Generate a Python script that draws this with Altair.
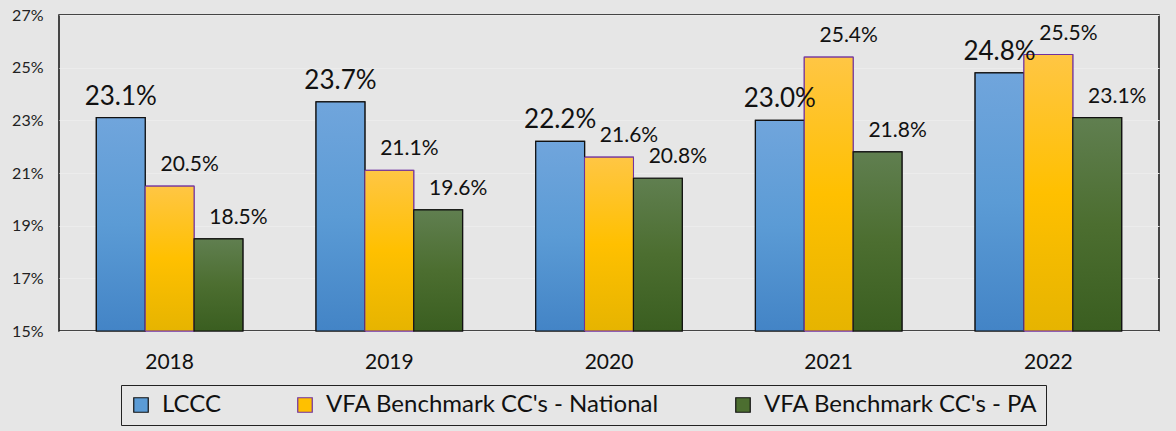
import altair as alt
import pandas as pd

years = ["2018", "2019", "2020", "2021", "2022"]
series = ["LCCC", "VFA Benchmark CC's - National", "VFA Benchmark CC's - PA"]
lccc = [23.1, 23.7, 22.2, 23.0, 24.8]
national = [20.5, 21.1, 21.6, 25.4, 25.5]
pa = [18.5, 19.6, 20.8, 21.8, 23.1]
y_ticks = [15, 17, 19, 21, 23, 25, 27]
y_min, y_max = 15, 27

rows = []
for s, vals in zip(series, [lccc, national, pa]):
    for y, v in zip(years, vals):
        rows.append({"year": y, "series": s, "value": v})
df = pd.DataFrame(rows)

FONT = "Lato"
BG = "#e6e6e6"
solid = ["#5b9bd5", "#ffc000", "#4c6e30"]
strokes = ["#111111", "#7030a0", "#111111"]


def grad(top, mid, bottom):
    return alt.Gradient(
        gradient="linear",
        stops=[
            alt.GradientStop(color=top, offset=0),
            alt.GradientStop(color=mid, offset=0.5),
            alt.GradientStop(color=bottom, offset=1),
        ],
        x1=0, x2=0, y1=0, y2=1,
    )


grads = [
    grad("#70a5dc", "#5b9bd5", "#4384c6"),
    grad("#ffc644", "#ffc000", "#e6b400"),
    grad("#607f50", "#4c6e30", "#3a5e20"),
]

x_enc = alt.X(
    "year:N",
    sort=years,
    scale=alt.Scale(paddingInner=0.333, paddingOuter=0.17),
    axis=alt.Axis(
        title=None, labelAngle=0, labelFont=FONT, labelFontSize=21,
        labelColor="#111111", ticks=False, tickSize=0, labelPadding=20,
        domain=False, grid=False,
    ),
)
xo_enc = alt.XOffset(
    "series:N", sort=series,
    scale=alt.Scale(domain=series, paddingInner=0, paddingOuter=0),
)
y_enc = alt.Y(
    "value:Q",
    scale=alt.Scale(domain=[y_min, y_max], zero=False, nice=False),
    axis=alt.Axis(
        title=None, values=y_ticks, labelExpr="datum.value + '%'",
        labelFont=FONT, labelFontSize=16, labelColor="#222222",
        ticks=False, tickSize=0, labelPadding=16, domain=False,
        grid=True, gridColor="#ececec", gridWidth=1,
    ),
)
y2_enc = alt.Y2(datum=y_min)

base = alt.Chart(df)

legend_bars = base.mark_bar(strokeWidth=1.2).encode(
    x=x_enc,
    xOffset=xo_enc,
    y=y_enc,
    y2=y2_enc,
    color=alt.Color(
        "series:N",
        scale=alt.Scale(domain=series, range=solid),
        legend=alt.Legend(
            title=None, orient="none", direction="horizontal",
            legendX=62, legendY=370,
            labelFont=FONT, labelFontSize=24, labelColor="#111111",
            symbolType="square", symbolSize=210, symbolStrokeWidth=1.2,
            columnPadding=72, labelOffset=9, padding=8,
            strokeColor="#222222", fillColor=BG, labelLimit=500,
        ),
    ),
    stroke=alt.Stroke(
        "series:N", scale=alt.Scale(domain=series, range=strokes), legend=None
    ),
)

layers = [legend_bars]
for s, g, st in zip(series, grads, strokes):
    layers.append(
        base.transform_filter(alt.datum.series == s)
        .mark_bar(fill=g, stroke=st, strokeWidth=1.2 if st != "#7030a0" else 1.0)
        .encode(x=x_enc, xOffset=xo_enc, y=y_enc, y2=y2_enc)
    )

label_base = base.transform_calculate(
    label="format(datum.value, '.1f') + '%'"
)

blue_text = (
    label_base.transform_filter(alt.datum.series == series[0])
    .mark_text(font=FONT, fontSize=26, color="#111111", baseline="alphabetic", dy=-13)
    .encode(x=x_enc, xOffset=xo_enc, y=y_enc, text="label:N")
)
other_text = (
    label_base.transform_filter(alt.datum.series != series[0])
    .mark_text(font=FONT, fontSize=21, color="#111111", baseline="alphabetic", dx=20, dy=-15)
    .encode(x=x_enc, xOffset=xo_enc, y=y_enc, text="label:N")
)
layers += [blue_text, other_text]

chart = (
    alt.layer(*layers)
    .properties(
        width=1100, height=316,
        autosize=alt.AutoSizeParams(type="none"),
        padding={"left": 59, "top": 15, "right": 17, "bottom": 100},
        background=BG,
    )
    .configure_view(stroke="#111111", strokeWidth=1.5, fill=BG)
)

chart.save("out.html", embed_options={"renderer": "svg", "actions": False})
